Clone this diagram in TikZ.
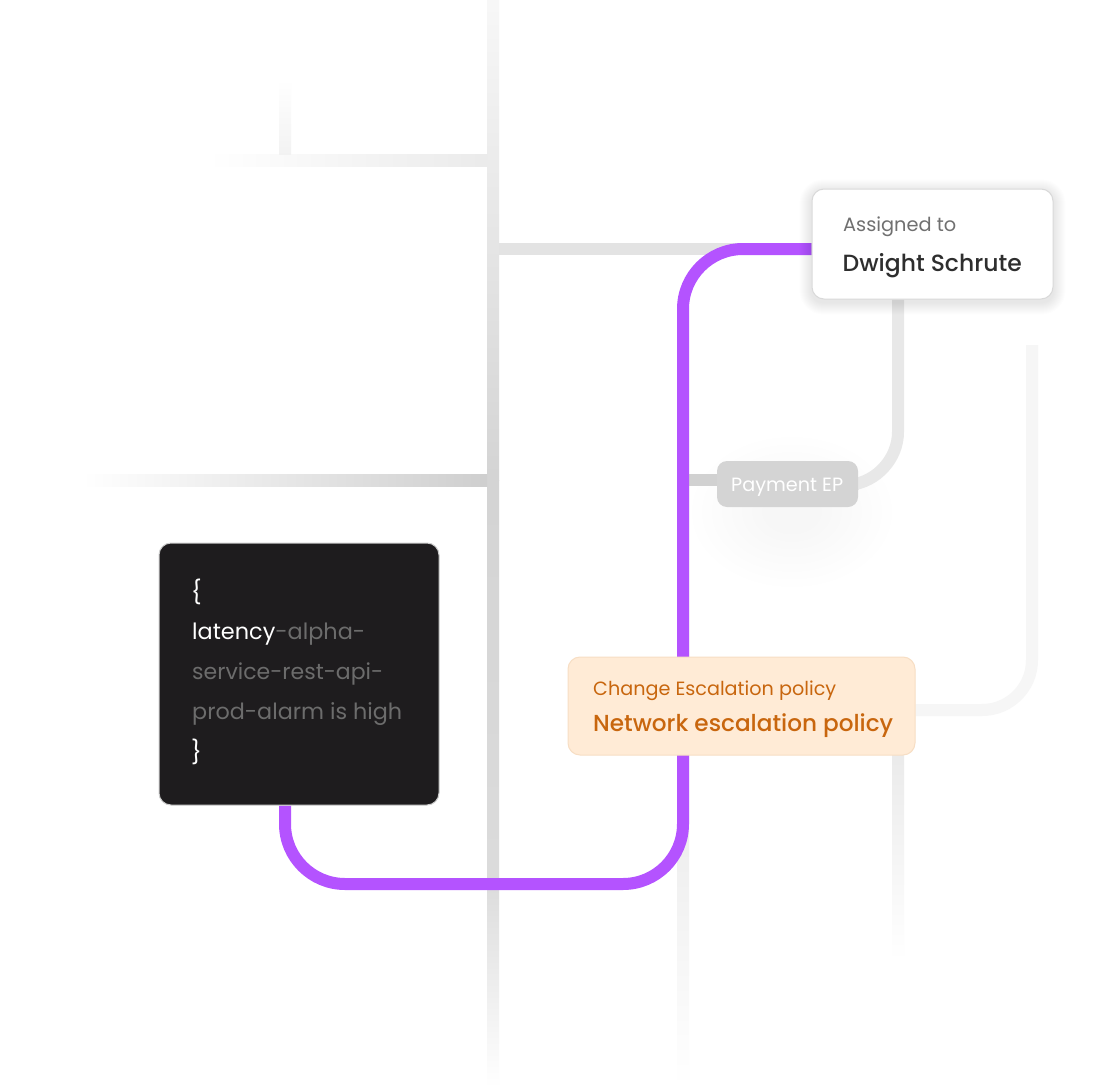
\documentclass[tikz,border=0pt]{standalone}
\usepackage{fontspec}
\setmainfont{Poppins}[BoldFont={Poppins Medium}]
\usetikzlibrary{calc}
\pgfdeclarelayer{background}
\pgfsetlayers{background,main}
\definecolor{purp}{HTML}{B453FF}
\definecolor{codefill}{HTML}{1E1C1E}
\definecolor{codegrey}{HTML}{6C6C6C}
\definecolor{escfill}{HTML}{FFEBD6}
\definecolor{escline}{HTML}{F7DEC4}
\definecolor{esctext}{HTML}{C8660E}
\definecolor{asgrey}{HTML}{707070}
\definecolor{dwtext}{HTML}{2E2E2E}
\definecolor{pillfill}{HTML}{D4D4D4}
\newcommand\fitto[2]{\resizebox{#1}{!}{#2}}
\tikzset{
  card/.style={rectangle, rounded corners=12, inner sep=0pt},
  dwbox/.style={card, fill=white, draw=black!15, line width=1pt},
  codebox/.style={card, fill=codefill, draw=black!20, line width=1pt},
  escbox/.style={card, fill=escfill, draw=escline, line width=1pt},
  pill/.style={rectangle, rounded corners=10, inner sep=0pt, fill=pillfill},
  lbl/.style={anchor=base west, inner sep=0pt},
  greyline/.style={line width=12pt},
  purpline/.style={purp, line width=12pt, rounded corners=60},
  softshade/.style={fill=black, opacity=0.005},
}
\begin{document}
\begin{tikzpicture}[x=1pt,y=-1pt]
\useasboundingbox (0,0) rectangle (1096,1087);

% ---------- cards ----------
\node[dwbox, minimum width=241, minimum height=110] (dw) at (932.5,244) {};
\node[lbl, text=asgrey] (asg) at (843,231) {\fitto{113pt}{Assigned to}};
\node[lbl, text=dwtext] (dwn) at (842.5,271) {\fitto{179pt}{\bfseries Dwight Schrute}};

\node[pill, minimum width=141, minimum height=46] (pay) at (787.5,484) {};
\node[lbl, text=white] (payt) at (731,491) {\fitto{112pt}{Payment EP}};

\node[codebox, minimum width=280, minimum height=262] (code) at (299,674) {};
\node[lbl, text=white, font=\fontsize{23}{23}\selectfont] (lb) at (191,600) {\{};
\node[lbl] (c1) at (192,639) {\fitto{173pt}{\textcolor{white}{latency}\textcolor{codegrey}{-alpha-}}};
\node[lbl, text=codegrey] (c2) at (192,679) {\fitto{191pt}{service-rest-api-}};
\node[lbl, text=codegrey] (c3) at (192,719) {\fitto{210pt}{prod-alarm is high}};
\node[lbl, text=white, font=\fontsize{23}{23}\selectfont] (rb) at (191,760) {\}};

\node[escbox, minimum width=347, minimum height=98] (esc) at (741.5,706) {};
\node[lbl, text=esctext] (esc1) at (593,695.5) {\fitto{243pt}{Change Escalation policy}};
\node[lbl, text=esctext] (esc2) at (593,731) {\fitto{300pt}{\bfseries Network escalation policy}};

\coordinate (pstart) at ($(code.south)+(-14,0)$);
\coordinate (pend) at ($(dw.west)+(0,5)$);

\begin{pgfonlayer}{background}
\fill[white] (0,0) rectangle (1096,1087);
% soft glow around the pill
\foreach \r in {30,40,...,100} {
  \fill[softshade] (792,512) ellipse [x radius=\r, y radius=0.75*\r];
}
% main vertical
\shade[top color=black!3, bottom color=black!17] (487,0) rectangle (499,480);
\shade[top color=black!17, bottom color=black!14] (487,480) rectangle (499,880);
\shade[top color=black!14, bottom color=white] (487,880) rectangle (499,1087);
% upper left branches
\shade[left color=white, right color=black!8] (208,154) rectangle (487,166);
\shade[top color=white, bottom color=black!5] (279,80) rectangle (291,154);
\fill[black!11] (499,243) rectangle (812,255);
\shade[left color=white, right color=black!19] (82,474) rectangle (487,486);
% second vertical under the purple line
\shade[top color=black!16, bottom color=white] (677,480) rectangle (689,1087);
\fill[black!18] (689,474) rectangle (720,486);
% branch from Dwight card to the pill
\draw[greyline, black!9, rounded corners=48] (dw.south -| 898,0) -- (898,480) -- (pay.east);
% faint right branch
\draw[greyline, black!3.5, rounded corners=50] (1032,345) -- (1032,710) -- (esc.east |- 0,710);
% under the escalation card
\shade[top color=black!8, bottom color=white] (892,755) rectangle (904,960);
% purple route
\draw[purpline] (pstart) -- (285,884) -- (683,884) -- (683,249) -- (pend);
% soft shadow of the Dwight card
\foreach \i in {1,...,12} {
  \fill[black, opacity=0.007, rounded corners=12+\i]
    ($(dw.south west)+(-\i,\i+3)$) rectangle ($(dw.north east)+(\i,-\i+3)$);
}
\end{pgfonlayer}
\end{tikzpicture}
\end{document}
